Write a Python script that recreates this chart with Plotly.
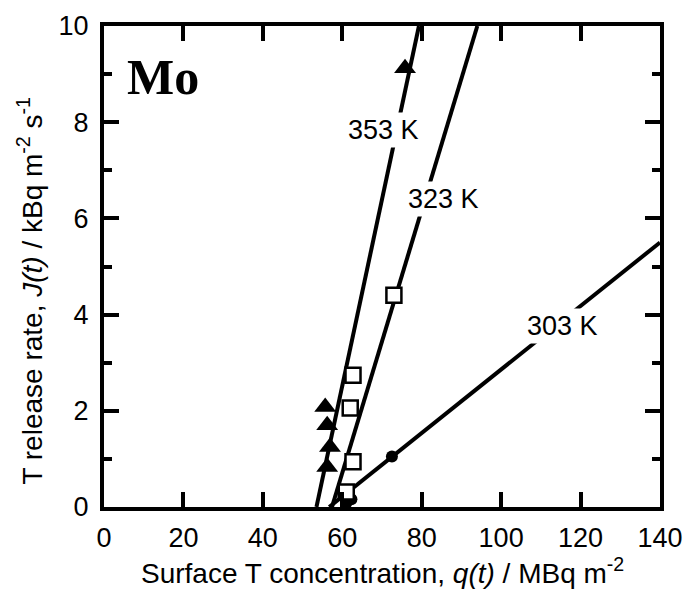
import plotly.graph_objects as go

# Measured T release rate vs surface T concentration on Mo
q_353 = [55.7, 56.2, 56.9, 56.2, 75.8]
j_353 = [2.08, 1.70, 1.25, 0.83, 9.12]

q_323 = [73.0, 62.7, 62.0, 62.7, 61.0]
j_323 = [4.40, 2.74, 2.06, 0.94, 0.31]

q_303 = [72.5, 62.3, 61.0]
j_303 = [1.05, 0.16, 0.08]

# Linear fits: end points of each fitted line
fit_353_q = [53.5, 79.3]
fit_353_j = [0.0, 10.0]
fit_323_q = [57.4, 94.0]
fit_323_j = [0.0, 10.0]
fit_303_q = [56.7, 140.0]
fit_303_j = [0.0, 5.5]

labels = ["353 K", "323 K", "303 K"]
label_q = [70.3, 85.6, 115.4]
label_j = [7.84, 6.40, 3.76]

x_ticks = [0, 20, 40, 60, 80, 100, 120, 140]
y_ticks = [0, 2, 4, 6, 8, 10]

FONT = "Liberation Sans, Arial"

fig = go.Figure()

for fq, fj in [(fit_353_q, fit_353_j), (fit_323_q, fit_323_j), (fit_303_q, fit_303_j)]:
    fig.add_trace(go.Scatter(x=fq, y=fj, mode="lines",
                             line=dict(color="black", width=4),
                             showlegend=False, hoverinfo="skip"))

fig.add_trace(go.Scatter(x=q_303, y=j_303, mode="markers",
                         marker=dict(symbol="circle", size=12, color="black"),
                         showlegend=False))
fig.add_trace(go.Scatter(x=q_323, y=j_323, mode="markers",
                         marker=dict(symbol="square", size=15, color="white",
                                     line=dict(color="black", width=2.5)),
                         showlegend=False))
fig.add_trace(go.Scatter(x=q_353, y=j_353, mode="markers",
                         marker=dict(symbol="triangle-up", size=19, color="black"),
                         showlegend=False))

for t, xq, yj in zip(labels, label_q, label_j):
    fig.add_annotation(x=xq, y=yj, text=t, showarrow=False,
                       font=dict(family=FONT, size=27, color="black"),
                       bgcolor="white", borderpad=2)

fig.add_annotation(x=14.9, y=8.93, text="<b>Mo</b>", showarrow=False,
                   font=dict(family="Liberation Serif, Times New Roman", size=50, color="black"))

# axis titles placed as annotations beside each axis
fig.add_annotation(xref="paper", yref="paper", x=-0.133, y=0.45,
                   xanchor="center", yanchor="middle", textangle=-90, showarrow=False,
                   text="T release rate, <i>J(t)</i> / kBq m<sup>-2</sup> s<sup>-1</sup>",
                   font=dict(family=FONT, size=28, color="black"))
fig.add_annotation(xref="paper", yref="paper", x=0.5, y=-0.133,
                   xanchor="center", yanchor="middle", showarrow=False,
                   text="Surface T concentration, <i>q(t)</i> / MBq m<sup>-2</sup>",
                   font=dict(family=FONT, size=28, color="black"))

axis_common = dict(showline=True, linewidth=4, linecolor="black", mirror="ticks",
                   ticks="inside", ticklen=15, tickwidth=3.5, tickcolor="black",
                   showgrid=False, zeroline=False, automargin=False,
                   tickfont=dict(family=FONT, size=27, color="black"))

fig.update_xaxes(range=[0, 140], tickvals=x_ticks, ticklabelstandoff=4, **axis_common)
fig.update_yaxes(range=[0, 10], tickvals=y_ticks,
                 minor=dict(tickvals=[1, 3, 5, 7, 9], ticks="inside", ticklen=8,
                            tickwidth=3.5, tickcolor="black", showgrid=False),
                 ticklabelstandoff=6,
                 **axis_common)

fig.update_layout(width=692, height=595, plot_bgcolor="white", paper_bgcolor="white",
                  margin=dict(l=104, r=32, t=26, b=88))

fig.write_html("out.html")
